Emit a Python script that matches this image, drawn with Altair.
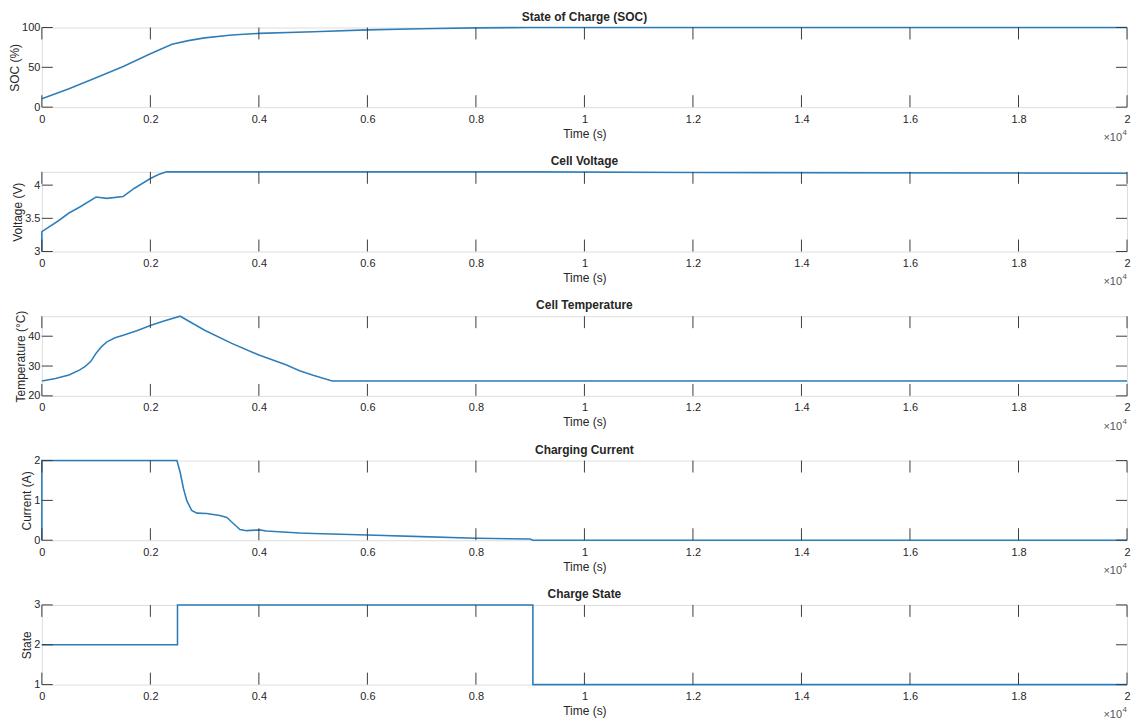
import altair as alt
import pandas as pd

# ---------------- data (time in seconds) ----------------
TIME_TICKS = [0, 2000, 4000, 6000, 8000, 10000, 12000, 14000, 16000, 18000, 20000]

soc_t = [0, 500, 1000, 1500, 2000, 2400, 2700, 3000, 3500, 4000, 5000, 6000, 7000, 8000, 9000, 20000]
soc_v = [10.5, 23, 37, 51, 67, 79, 83.5, 87, 90.5, 92.6, 94.6, 97, 98.5, 99.5, 100, 100]

volt_t = [0, 0, 300, 500, 700, 1000, 1200, 1500, 1700, 2000, 2150, 2300, 9050, 12000, 20000]
volt_v = [3.0, 3.3, 3.46, 3.58, 3.67, 3.82, 3.80, 3.83, 3.95, 4.10, 4.16, 4.2, 4.2, 4.19, 4.18]

temp_t = [0, 250, 500, 700, 800, 900, 1000, 1100, 1200, 1350, 1500, 1750, 2000, 2250, 2550,
          3000, 3500, 4000, 4500, 4750, 5000, 5350, 20000]
temp_v = [25, 25.8, 27, 28.7, 29.9, 31.5, 34.3, 36.5, 38.1, 39.5, 40.3, 41.8, 43.6, 45.1, 46.7,
          42, 37.6, 33.7, 30.4, 28.4, 26.9, 25, 25]

curr_t = [0, 0, 2490, 2550, 2610, 2670, 2760, 2860, 3040, 3280, 3410, 3530, 3650, 3770, 4010,
          4140, 4750, 5000, 6000, 7000, 8000, 9000, 9050, 20000]
curr_v = [0, 2, 2, 1.7, 1.3, 1.0, 0.75, 0.68, 0.67, 0.62, 0.57, 0.42, 0.27, 0.24, 0.26,
          0.23, 0.18, 0.17, 0.13, 0.09, 0.05, 0.03, 0, 0]

state_t = [0, 2500, 2500, 9050, 9050, 20000]
state_v = [2, 2, 3, 3, 1, 1]

# ---------------- style ----------------
W, H = 1090, 80
FONT = "Liberation Sans"
BOX = "#5e5e5e"
TICK = "#3c3c3c"
TXT = "#262626"
BLUE = "#3b93d4"
DARK = "#1c2a36"


def panel(title, ytitle, ts, vs, ydom, yticks):
    df = pd.DataFrame({"t": ts, "v": vs, "i": list(range(len(ts)))})
    xs = alt.Scale(domain=[0, 20000], nice=False, zero=False)
    ys = alt.Scale(domain=ydom, nice=False, zero=False)
    xaxis = alt.Axis(values=TIME_TICKS, tickCount=20,
                     labelExpr="'' + (datum.value / 10000)",
                     title="Time (s)", ticks=False, tickSize=0, domain=False, grid=False,
                     labelFlush=False, labelOverlap=False, labelPadding=6, titlePadding=4,
                     labelFontSize=11, titleFontSize=12, titleFontWeight="normal",
                     labelColor=TXT, titleColor=TXT, labelFont=FONT, titleFont=FONT)
    yaxis = alt.Axis(values=yticks, tickCount=10, labelExpr="'' + datum.value",
                     title=ytitle, ticks=False, tickSize=0, domain=False, grid=False,
                     labelFlush=False, labelOverlap=False, labelPadding=2, titlePadding=0,
                     labelFontSize=11, titleFontSize=12, titleFontWeight="normal",
                     labelColor=TXT, titleColor=TXT, labelFont=FONT, titleFont=FONT)
    line = alt.Chart(df).mark_line(color=BLUE, strokeWidth=1.6).encode(
        x=alt.X("t:Q", scale=xs, axis=xaxis),
        y=alt.Y("v:Q", scale=ys, axis=yaxis),
        order="i:Q")
    dark = alt.Chart(df).mark_line(color=DARK, strokeWidth=0.6, opacity=0.45).encode(
        x=alt.X("t:Q", scale=xs), y=alt.Y("v:Q", scale=ys), order="i:Q")
    xt = pd.DataFrame({"t": TIME_TICKS})
    xtop = alt.Chart(xt).mark_rule(color=TICK, strokeWidth=1).encode(
        x=alt.X("t:Q", scale=xs), y=alt.value(0), y2=alt.value(12))
    xbot = alt.Chart(xt).mark_rule(color=TICK, strokeWidth=1).encode(
        x=alt.X("t:Q", scale=xs), y=alt.value(H), y2=alt.value(H - 12))
    yt = pd.DataFrame({"v": yticks})
    yleft = alt.Chart(yt).mark_rule(color=TICK, strokeWidth=1).encode(
        y=alt.Y("v:Q", scale=ys), x=alt.value(0), x2=alt.value(11))
    yright = alt.Chart(yt).mark_rule(color=TICK, strokeWidth=1).encode(
        y=alt.Y("v:Q", scale=ys), x=alt.value(W), x2=alt.value(W - 11))
    exp = pd.DataFrame({"t": [20000], "s": ["\u00d710"], "e": ["4"]})
    t1 = alt.Chart(exp).mark_text(align="right", baseline="alphabetic", dx=-5, fontSize=11,
                                  color="#555555", font=FONT).encode(
        x=alt.X("t:Q", scale=xs), y=alt.value(H + 34), text="s:N")
    t2 = alt.Chart(exp).mark_text(align="right", baseline="alphabetic", dx=0, fontSize=8,
                                  color="#555555", font=FONT).encode(
        x=alt.X("t:Q", scale=xs), y=alt.value(H + 28), text="e:N")
    tdf = pd.DataFrame({"t": [10000], "title": [title]})
    ttl = alt.Chart(tdf).mark_text(align="center", baseline="alphabetic", fontSize=12,
                                   fontWeight="bold", color=TXT, font=FONT).encode(
        x=alt.X("t:Q", scale=xs), y=alt.value(-7), text="title:N")
    return alt.layer(line, dark, xtop, xbot, yleft, yright, t1, t2, ttl).properties(
        width=W, height=H)


p1 = panel("State of Charge (SOC)", "SOC (%)", soc_t, soc_v, [0, 100], [0, 50, 100])
p2 = panel("Cell Voltage", "Voltage (V)", volt_t, volt_v, [3, 4.2], [3, 3.5, 4])
p3 = panel("Cell Temperature", "Temperature (\u00b0C)", temp_t, temp_v, [20, 46.7], [20, 30, 40])
p4 = panel("Charging Current", "Current (A)", curr_t, curr_v, [0, 2], [0, 1, 2])
p5 = panel("Charge State", "State", state_t, state_v, [1, 3], [1, 2, 3])

chart = alt.vconcat(p1, p2, p3, p4, p5, spacing=10).properties(
    padding={"left": 0, "top": 0, "right": 0, "bottom": 0}
).configure_view(stroke=BOX, strokeWidth=1).configure(background="white")

chart.save("out.html", embed_options={"renderer": "svg", "actions": False})
